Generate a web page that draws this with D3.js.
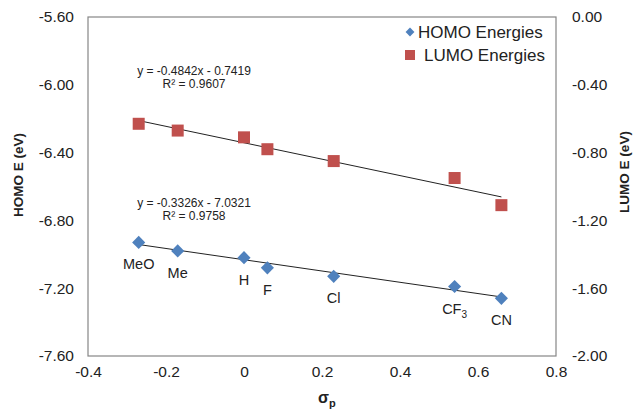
<!DOCTYPE html>
<html>
<head>
<meta charset="utf-8">
<script src="https://cdn.jsdelivr.net/npm/d3@7"></script>
<style>
  body { margin: 0; background: #fff; }
  text { font-family: "Liberation Sans", Arial, sans-serif; fill: #222; }
</style>
</head>
<body>
<div id="chart"></div>
<script>
// substituent labels and Hammett sigma_p values
var subs = ["MeO", "Me", "H", "F", "Cl", "CF3", "CN"]
var sigmaP = [-0.27, -0.17, 0, 0.06, 0.23, 0.54, 0.66]
var homo = [-6.93, -6.98, -7.02, -7.08, -7.13, -7.19, -7.26]
var lumo = [-0.63, -0.67, -0.71, -0.78, -0.85, -0.95, -1.11]

// trendline coefficients as printed on the chart
var homoFit = [-0.3326, -7.0321]
var lumoFit = [-0.4842, -0.7419]

var xTicks = [-0.4, -0.2, 0, 0.2, 0.4, 0.6, 0.8]
var yLeftTicks = [-5.6, -6.0, -6.4, -6.8, -7.2, -7.6]
var yRightTicks = [0, -0.4, -0.8, -1.2, -1.6, -2.0]

var width = 634, height = 412
var margin = {top: 17, right: 78, bottom: 56, left: 88}

var svg = d3.select("#chart").append("svg")
    .attr("width", width)
    .attr("height", height)

var x = d3.scaleLinear().domain([-0.4, 0.8]).range([margin.left, width - margin.right])
var yL = d3.scaleLinear().domain([-7.6, -5.6]).range([height - margin.bottom, margin.top])
var yR = d3.scaleLinear().domain([-2.0, 0]).range([height - margin.bottom, margin.top])

// plot area frame
svg.append("rect")
    .attr("x", x.range()[0])
    .attr("y", yL.range()[1])
    .attr("width", x.range()[1] - x.range()[0])
    .attr("height", yL.range()[0] - yL.range()[1])
    .attr("fill", "none")
    .attr("stroke", "#868686")
    .attr("stroke-width", 1.2)

var xAxis = d3.axisBottom(x).tickValues(xTicks).tickSize(0).tickPadding(10)
    .tickFormat(d => d == 0 ? "0" : d3.format(".1f")(d).replace("−", "-"))
var gx = svg.append("g").attr("transform", "translate(0," + yL.range()[0] + ")").call(xAxis)

var gl = svg.append("g").attr("transform", "translate(" + x.range()[0] + ",0)")
    .call(d3.axisLeft(yL).tickValues(yLeftTicks).tickSize(0).tickPadding(14)
        .tickFormat(d => d3.format(".2f")(d).replace("−", "-")))

var gr = svg.append("g").attr("transform", "translate(" + x.range()[1] + ",0)")
    .call(d3.axisRight(yR).tickValues(yRightTicks).tickSize(0).tickPadding(16)
        .tickFormat(d => d3.format(".2f")(d).replace("−", "-")))

svg.selectAll(".domain").remove()
svg.selectAll(".tick text").attr("font-size", 15.5).style("fill", "#222")
    .attr("font-family", "Liberation Sans, Arial, sans-serif")

// axis titles
svg.append("text")
    .attr("transform", "translate(23,175) rotate(-90)")
    .attr("text-anchor", "middle")
    .attr("font-size", 13.5).attr("font-weight", "bold")
    .text("HOMO E (eV)")

svg.append("text")
    .attr("transform", "translate(629,172) rotate(-90)")
    .attr("text-anchor", "middle")
    .attr("font-size", 13.5).attr("font-weight", "bold")
    .text("LUMO E (eV)")

var xt = svg.append("text")
    .attr("x", x(0.2) - 4).attr("y", 403)
    .attr("font-size", 16).attr("font-weight", "bold")
xt.append("tspan").text("σ")
xt.append("tspan").attr("dy", 4).attr("font-size", 11).text("p")

// trendlines over the data range
var xMin = d3.min(sigmaP), xMax = d3.max(sigmaP)
function trend(fit, y) {
    svg.append("line")
        .attr("x1", x(xMin)).attr("y1", y(fit[0] * xMin + fit[1]))
        .attr("x2", x(xMax)).attr("y2", y(fit[0] * xMax + fit[1]))
        .attr("stroke", "#222").attr("stroke-width", 1)
}
trend(lumoFit, yR)
trend(homoFit, yL)

var data = subs.map((s, i) => ({sub: s, sx: sigmaP[i], homo: homo[i], lumo: lumo[i]}))

// LUMO squares
svg.selectAll(".lumo").data(data).enter().append("rect")
    .attr("class", "lumo")
    .attr("x", d => x(d.sx) - 6).attr("y", d => yR(d.lumo) - 6)
    .attr("width", 12).attr("height", 12)
    .attr("fill", "#C0504D")

// HOMO diamonds
var diamond = d3.symbol().type(d3.symbolDiamond2).size(110)
svg.selectAll(".homo").data(data).enter().append("path")
    .attr("class", "homo")
    .attr("transform", d => "translate(" + x(d.sx) + "," + yL(d.homo) + ")")
    .attr("d", diamond)
    .attr("fill", "#4F81BD")

// point labels under the HOMO points
var lbl = svg.selectAll(".lbl").data(data).enter().append("text")
    .attr("class", "lbl")
    .attr("x", d => x(d.sx))
    .attr("y", d => yL(d.homo) + 27)
    .attr("text-anchor", "middle")
    .attr("font-size", 14.5)
lbl.each(function(d) {
    var t = d3.select(this)
    if (d.sub == "CF3") {
        t.append("tspan").text("CF")
        t.append("tspan").attr("dy", 4).attr("font-size", 10).text("3")
    } else {
        t.text(d.sub)
    }
})

// equation labels
function eq(lines, cx, cy) {
    lines.forEach((l, i) => {
        svg.append("text")
            .attr("x", cx).attr("y", cy + i * 13)
            .attr("text-anchor", "middle")
            .attr("font-size", 12)
            .text(l)
    })
}
eq(["y = -0.4842x - 0.7419", "R² = 0.9607"], 194, 75)
eq(["y = -0.3326x - 7.0321", "R² = 0.9758"], 194, 207)

// legend
var lg = svg.append("g")
lg.append("path").attr("transform", "translate(410,32)")
    .attr("d", d3.symbol().type(d3.symbolDiamond2).size(50)).attr("fill", "#4F81BD")
lg.append("rect").attr("x", 405).attr("y", 50).attr("width", 10).attr("height", 10).attr("fill", "#C0504D")
lg.append("text").attr("x", 418).attr("y", 38).attr("font-size", 17).text("HOMO Energies")
lg.append("text").attr("x", 424).attr("y", 61).attr("font-size", 17).text("LUMO Energies")
</script>
</body>
</html>
